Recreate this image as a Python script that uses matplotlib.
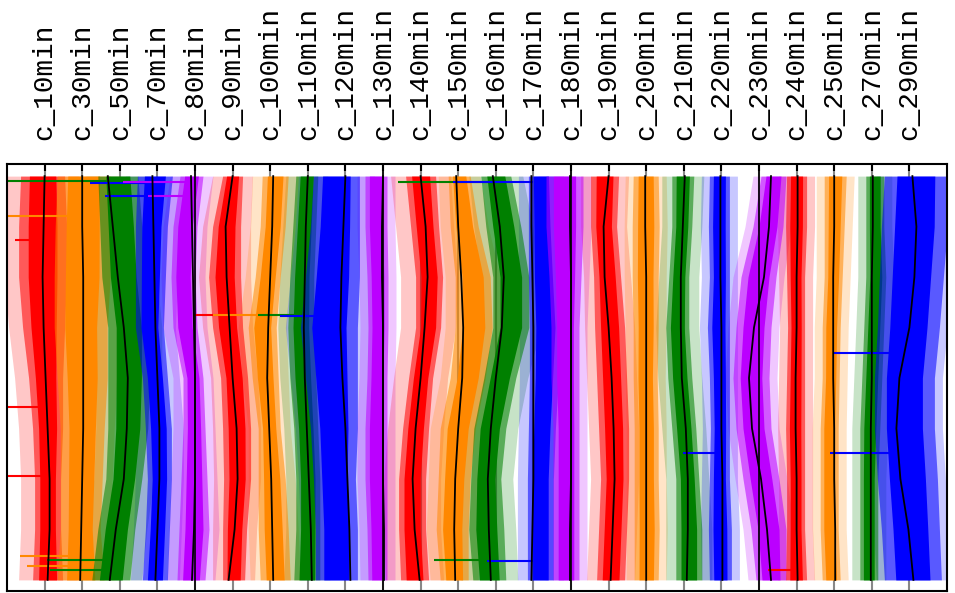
import matplotlib
matplotlib.use("Agg")
import matplotlib.pyplot as plt
import numpy as np

# trace names (one column each)
names = ["c_10min", "c_30min", "c_50min", "c_70min", "c_80min", "c_90min",
         "c_100min", "c_110min", "c_120min", "c_130min", "c_140min", "c_150min",
         "c_160min", "c_170min", "c_180min", "c_190min", "c_200min", "c_210min",
         "c_220min", "c_230min", "c_240min", "c_250min", "c_270min", "c_290min"]

colors = ["red", "#ff8800", "green", "blue", "#bb00ff"]

# sample positions along each trace
t = [0, 50, 100, 150, 200, 250, 300, 350, 400]

# smooth fit (black curve), offset from each trace's baseline
fit_c10 = [0, -1, -2, -1, 1, 3, 5, 5, 3]
fit_c30 = [0, 0, 1, 1, 1, 1, 0, -1, -2]
fit_c50 = [-12, -7, -2, 4, 8, 7, 4, -4, -10]
fit_c70 = [-5, -4, -3, -2, 0, 2, 2, 0, -2]
fit_c80 = [-4, -3, -2, -1, 0, 0, 0, -1, -3]
fit_c90 = [0, -7, -6, -3, 0, 4, 5, 2, -4]
fit_c100 = [3, 2, 0, -2, -3, -1, 1, 2, 3]
fit_c110 = [0, -2, -3, -4, -3, -1, 1, 3, 4]
fit_c120 = [0, -2, -4, -5, -3, 0, 2, 4, 5]
fit_c130 = [0, -1, -1, 0, 0, 0, 0, 1, 1]
fit_c140 = [0, 5, 7, 4, 0, -5, -8, -6, -1]
fit_c150 = [-2, 0, 3, 5, 4, 0, -3, -4, -3]
fit_c160 = [-3, 4, 8, 6, 0, -5, -8, -7, -5]
fit_c170 = [-2, -2, -1, 0, 0, 0, 0, -1, -2]
fit_c180 = [-1, -1, 0, 0, 0, 0, 0, -1, -1]
fit_c190 = [0, -5, -4, 0, 3, 5, 6, 4, 2]
fit_c200 = [-1, -1, 0, 0, 0, 0, 0, 0, 0]
fit_c210 = [1, -1, -3, -3, -2, 2, 4, 4, 3]
fit_c220 = [-1, -1, -1, 0, 0, 0, 1, 1, 1]
fit_c230 = [12, 10, 5, -5, -10, -7, 2, 8, 12]
fit_c240 = [1, 1, 0, 0, -1, -1, 0, 0, 1]
fit_c250 = [0, 0, -1, -1, -1, 0, 0, 1, 1]
fit_c270 = [1, 1, 0, 0, 0, -1, -1, -1, -1]
fit_c290 = [3, 7, 5, 0, -10, -13, -9, -1, 4]

# left / right extent of the signal band
left_c10 = [-24, -26, -26, -22, -16, -12, -10, -10, -12]
left_c30 = [-25, -27, -28, -28, -25, -22, -22, -22, -25]
left_c50 = [-22, -20, -18, -12, -12, -12, -14, -22, -28]
left_c70 = [-20, -22, -22, -22, -15, -12, -10, -12, -15]
left_c80 = [-15, -22, -24, -22, -12, -12, -14, -16, -18]
left_c90 = [-10, -20, -24, -20, -12, -10, -9, -10, -10]
left_c100 = [-8, -10, -15, -22, -18, -12, -12, -12, -10]
left_c110 = [-12, -15, -18, -20, -18, -14, -12, -12, -14]
left_c120 = [-32, -35, -40, -45, -40, -35, -32, -30, -30]
left_c130 = [-18, -18, -16, -15, -16, -18, -18, -16, -15]
left_c140 = [-15, -10, -5, -5, -12, -18, -22, -22, -20]
left_c150 = [-10, -8, -3, -3, -8, -18, -20, -22, -18]
left_c160 = [-15, -10, -3, -3, -12, -22, -25, -27, -23]
left_c170 = [-5, -5, -5, -4, -4, -5, -6, -6, -6]
left_c180 = [-25, -25, -22, -20, -20, -18, -18, -18, -18]
left_c190 = [-18, -18, -15, -14, -12, -10, -8, -10, -12]
left_c200 = [-13, -14, -14, -13, -13, -12, -12, -12, -12]
left_c210 = [-12, -12, -15, -18, -16, -12, -8, -8, -8]
left_c220 = [-12, -13, -12, -14, -12, -11, -12, -13, -12]
left_c230 = [2, -6, -18, -23, -26, -23, -16, -8, -3]
left_c240 = [-10, -11, -10, -9, -10, -11, -10, -10, -11]
left_c250 = [-10, -10, -10, -12, -12, -14, -14, -14, -12]
left_c270 = [-6, -6, -6, -8, -10, -12, -12, -12, -12]
left_c290 = [-25, -28, -30, -32, -35, -35, -32, -28, -25]

right_c10 = [20, 22, 22, 20, 18, 18, 16, 16, 18]
right_c30 = [28, 28, 28, 25, 25, 22, 20, 18, 22]
right_c50 = [18, 22, 25, 30, 30, 28, 22, 15, 10]
right_c70 = [15, 10, 8, 6, 10, 14, 14, 12, 10]
right_c80 = [8, 2, 0, 2, 8, 10, 12, 14, 10]
right_c90 = [10, 8, 8, 10, 15, 18, 18, 14, 12]
right_c100 = [18, 15, 10, 6, 8, 10, 15, 18, 20]
right_c110 = [10, 8, 6, 6, 8, 10, 12, 12, 12]
right_c120 = [14, 14, 14, 12, 12, 12, 10, 12, 12]
right_c130 = [4, 4, 5, 5, 4, 4, 4, 4, 4]
right_c140 = [15, 18, 22, 20, 12, 8, 5, 5, 8]
right_c150 = [12, 20, 32, 34, 27, 17, 12, 10, 10]
right_c160 = [15, 25, 33, 33, 20, 10, 5, 8, 10]
right_c170 = [20, 22, 25, 28, 25, 22, 20, 20, 20]
right_c180 = [12, 12, 10, 8, 8, 8, 8, 8, 8]
right_c190 = [10, 8, 12, 16, 18, 20, 20, 18, 16]
right_c200 = [12, 13, 12, 12, 11, 12, 12, 13, 12]
right_c210 = [10, 8, 5, 5, 8, 12, 15, 18, 18]
right_c220 = [8, 8, 8, 8, 8, 8, 8, 10, 10]
right_c230 = [27, 24, 17, 12, 10, 12, 20, 27, 27]
right_c240 = [10, 10, 8, 8, 8, 8, 8, 8, 10]
right_c250 = [12, 10, 8, 6, 5, 4, 4, 4, 6]
right_c270 = [12, 12, 14, 12, 10, 8, 6, 6, 6]
right_c290 = [38, 38, 34, 30, 25, 25, 28, 30, 32]

# spread of the noisy fringe around each band
fringe = [14, 10, 12, 12, 10, 10, 10, 10, 15, 8, 15, 10,
          12, 10, 8, 10, 8, 10, 8, 8, 8, 8, 8, 8]

# large single-sample spikes: (trace, sample, value)
spike_trace = [0, 0, 0, 1, 1, 1, 2, 2, 2, 3, 3, 4, 4, 5, 6, 7, 8,
               12, 12, 13, 13, 18, 20, 23, 23]
spike_t = [63, 229, 297, 40, 376, 386, 5, 380, 390, 7, 20, 6, 20, 138, 138,
           138, 139, 6, 380, 6, 381, 274, 390, 175, 274]
spike_val = [-30, -37, -37, -75, -62, -55, -113, -73, -70, -67, -52, -72, -47,
             -39, -57, -50, -65, -98, -62, -80, -46, -38, -29, -76, -79]

fits = [fit_c10, fit_c30, fit_c50, fit_c70, fit_c80, fit_c90, fit_c100, fit_c110,
        fit_c120, fit_c130, fit_c140, fit_c150, fit_c160, fit_c170, fit_c180,
        fit_c190, fit_c200, fit_c210, fit_c220, fit_c230, fit_c240, fit_c250,
        fit_c270, fit_c290]
lefts = [left_c10, left_c30, left_c50, left_c70, left_c80, left_c90, left_c100,
         left_c110, left_c120, left_c130, left_c140, left_c150, left_c160,
         left_c170, left_c180, left_c190, left_c200, left_c210, left_c220,
         left_c230, left_c240, left_c250, left_c270, left_c290]
rights = [right_c10, right_c30, right_c50, right_c70, right_c80, right_c90,
          right_c100, right_c110, right_c120, right_c130, right_c140, right_c150,
          right_c160, right_c170, right_c180, right_c190, right_c200, right_c210,
          right_c220, right_c230, right_c240, right_c250, right_c270, right_c290]

gain = 1 / 37.6  # amplitude -> column widths

fig = plt.figure(figsize=(9.55, 5.93), dpi=100)
ax = fig.add_axes([7 / 955, 2 / 593, 940 / 955, 427 / 593])

tt = np.array(t)

# baselines and the sparse outer fringe first
for k in range(len(names)):
    c = colors[k % 5]
    ax.axvline(k, color="#888888", lw=1.5, zorder=0.5)
    lo = k + np.array(lefts[k]) * gain
    hi = k + np.array(rights[k]) * gain
    f = fringe[k] * gain
    ax.fill_betweenx(tt, lo - f, hi + f, color=c, alpha=0.22, lw=0, zorder=1)

# band, dense core, spikes and smooth fit of each trace
for k in range(len(names)):
    c = colors[k % 5]
    lo = k + np.array(lefts[k]) * gain
    hi = k + np.array(rights[k]) * gain
    mid = (lo + hi) / 2
    half = (hi - lo) / 2
    ax.fill_betweenx(tt, lo, hi, color=c, alpha=0.55, lw=0, zorder=2)
    ax.fill_betweenx(tt, mid - 0.6 * half, mid + 0.6 * half, color=c, lw=0, zorder=2)
    for tr, ts, v in zip(spike_trace, spike_t, spike_val):
        if tr == k:
            ax.hlines(ts, k, k + v * gain, color=c, lw=1.5, zorder=2)
    ax.plot(k + np.array(fits[k]) * gain, tt, color="black", lw=1.3, zorder=3)

for k in range(4, len(names), 5):
    ax.axvline(k, color="black", lw=1.2, zorder=4)

ax.set_xlim(-1, 24)
ax.set_ylim(411, -12)
ax.xaxis.tick_top()
ax.set_xticks(range(len(names)))
ax.set_xticklabels(names, rotation=90, family="Liberation Mono", fontsize=20)
ax.tick_params(axis="x", direction="in", length=5, width=1.5, pad=17,
               top=True, bottom=False)
ax.set_yticks([])
for sp in ax.spines.values():
    sp.set_linewidth(1.5)

fig.savefig("out.png", dpi=100)
